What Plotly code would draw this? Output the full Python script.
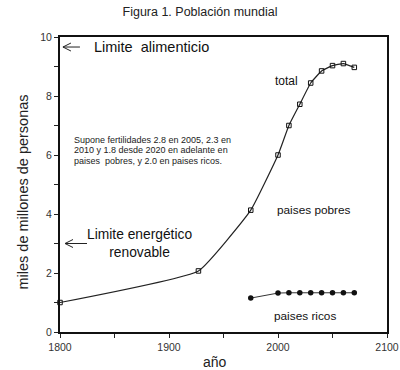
import plotly.graph_objects as go

total_years = [1800, 1927, 1975, 2000, 2010, 2020, 2030, 2040, 2050, 2060, 2070]
total_vals = [1.0, 2.07, 4.13, 6.0, 7.0, 7.72, 8.44, 8.85, 9.03, 9.1, 8.97]
rich_years = [1975, 2000, 2010, 2020, 2030, 2040, 2050, 2060, 2070]
rich_vals = [1.15, 1.32, 1.33, 1.33, 1.33, 1.33, 1.33, 1.33, 1.33]
x_ticks = [1800, 1900, 2000, 2100]
y_ticks = [0, 2, 4, 6, 8, 10]
note_lines = ["Supone fertilidades 2.8 en 2005, 2.3 en",
              "2010 y 1.8 desde 2020 en adelante en",
              "paises  pobres, y 2.0 en paises ricos."]

FONT = "Liberation Sans, Arial, sans-serif"

fig = go.Figure()
fig.add_trace(go.Scatter(
    x=total_years, y=total_vals, mode="lines+markers",
    line=dict(color="#222", width=1.2, shape="spline", smoothing=0.35),
    marker=dict(symbol="square-open", size=4.5, color="#111", line=dict(width=1)),
    showlegend=False, cliponaxis=False))
fig.add_trace(go.Scatter(
    x=rich_years, y=rich_vals, mode="lines+markers",
    line=dict(color="#333", width=1),
    marker=dict(symbol="circle", size=5.5, color="#111"),
    showlegend=False))

fig.update_layout(
    width=400, height=370,
    margin=dict(l=60, r=13, t=37, b=38),
    paper_bgcolor="white", plot_bgcolor="white",
    font=dict(family=FONT, color="#222"),
    title=dict(text="Figura 1. Población mundial", x=0.5, xanchor="center",
               y=1 - 12 / 370, yanchor="middle", font=dict(size=12.5, color="#222")),
    xaxis=dict(range=[1800, 2100], tickvals=x_ticks, ticks="outside", ticklen=4,
               tickwidth=1, tickcolor="#222", automargin=False,
               minor=dict(tickvals=[1850, 1950, 2050], ticks="outside", ticklen=4, tickcolor="#222"),
               showline=True, linecolor="#111", linewidth=2, mirror=True,
               showgrid=False, zeroline=False,
               tickfont=dict(size=10.5, color="#333")),
    yaxis=dict(range=[0, 10], tickvals=y_ticks, ticks="outside", ticklen=4,
               tickwidth=1, tickcolor="#222", automargin=False,
               minor=dict(tickvals=[1, 3, 5, 7, 9], ticks="outside", ticklen=4, tickcolor="#222"),
               showline=True, linecolor="#111", linewidth=2, mirror=True,
               showgrid=False, zeroline=False,
               tickfont=dict(size=10.5, color="#333")),
)

ann = []
ann.append(dict(text="miles de millones de personas", xref="paper", yref="paper",
                x=-48 / 327, y=0.5 - 8 / 295, textangle=-90, showarrow=False,
                font=dict(size=14.5, color="#222")))
ann.append(dict(text="año", xref="paper", yref="paper", x=(215 - 60) / 327,
                y=-(362 - 332) / 295, yanchor="middle", showarrow=False,
                font=dict(size=14, color="#222")))
ann.append(dict(text="Limite  alimenticio", x=1829, y=9.66, xanchor="left",
                showarrow=False, font=dict(size=14.5, color="#111")))
ann.append(dict(text="Limite energético<br>renovable", x=1873, y=3.0, xanchor="center",
                showarrow=False, font=dict(size=13.8, color="#111")))
for line, yv in zip(note_lines, [6.515, 6.16, 5.80]):
    ann.append(dict(text=line, x=1810.7, y=yv, xanchor="left", yanchor="middle",
                    showarrow=False, font=dict(size=9, color="#222")))
ann.append(dict(text="total", x=2008, y=8.5, showarrow=False, font=dict(size=12, color="#111")))
ann.append(dict(text="paises pobres", x=2032.6, y=4.12, showarrow=False, font=dict(size=11.8, color="#111")))
ann.append(dict(text="paises ricos", x=2025, y=0.54, showarrow=False, font=dict(size=11.8, color="#111")))
fig.update_layout(annotations=ann)

# open arrows pointing to the y axis
shapes = []
for tip_x, tip_y, length in [(1802.7, 9.66, 17), (1804.6, 3.0, 22)]:
    for (x0, y0, x1, y1) in [(0, 0, length, 0), (0, 0, 8, 4), (0, 0, 8, -4)]:
        shapes.append(dict(type="line", xref="x", yref="y",
                           xsizemode="pixel", ysizemode="pixel",
                           xanchor=tip_x, yanchor=tip_y,
                           x0=x0, y0=y0, x1=x1, y1=y1,
                           line=dict(color="#222", width=1)))
fig.update_layout(shapes=shapes)

fig.write_html(
    "out.html",
    config={"responsive": False, "displayModeBar": False},
    post_script="document.body.style.margin='0';document.body.style.overflow='hidden';",
)
